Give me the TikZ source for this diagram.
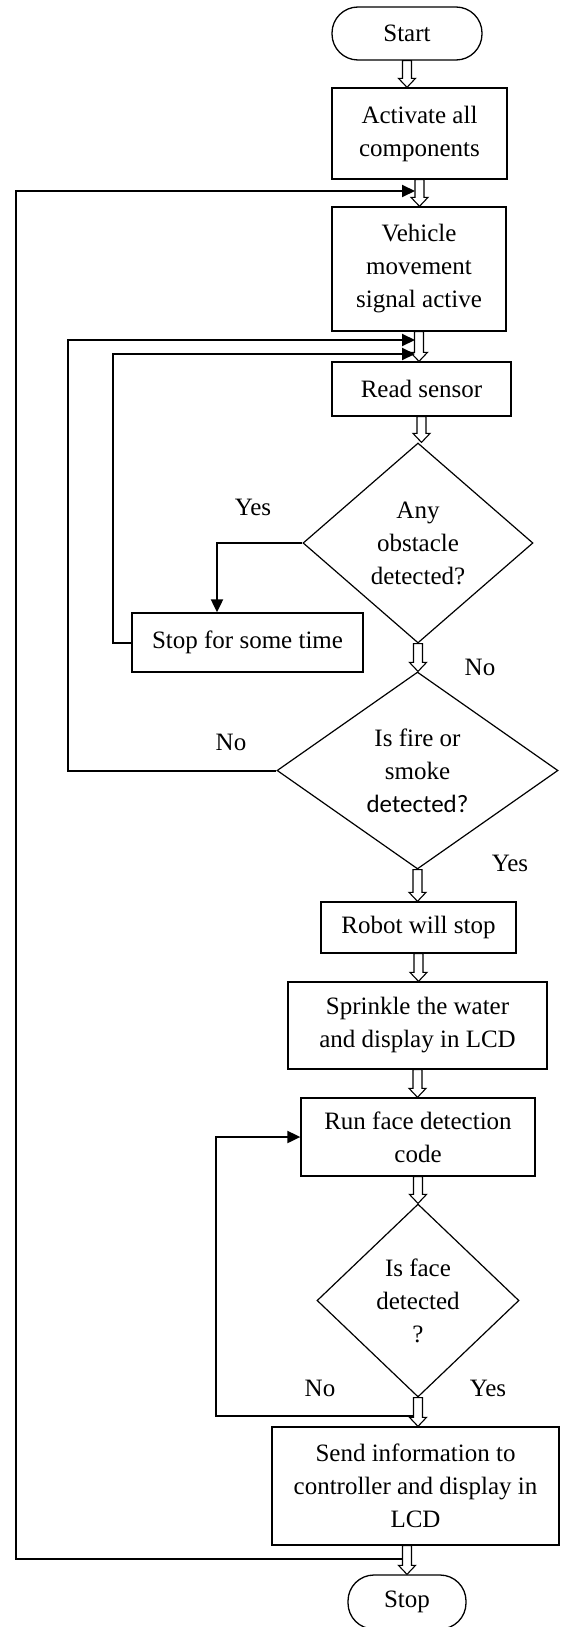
\documentclass[tikz,border=0pt]{standalone}
\usepackage{fontspec}
\setmainfont{Liberation Serif}
\newfontfamily\calibri{Carlito}
\usepackage{tikz}
\usetikzlibrary{shapes.geometric,arrows.meta,calc}

\newcommand{\blockarrow}[2]{%
  \draw[fill=white, line width=1.1pt] let \p1=#1, \p2=#2 in
    (\x1-4.5pt,\y1) -- (\x1-4.5pt,\y2+9pt) -- (\x1-8.5pt,\y2+9pt) -- (\x1,\y2)
    -- (\x1+8.5pt,\y2+9pt) -- (\x1+4.5pt,\y2+9pt) -- (\x1+4.5pt,\y1) -- cycle;}

\begin{document}
\begin{tikzpicture}[x=1pt, y=-1pt,
    every node/.style={font=\fontsize{25}{33}\selectfont},
    box/.style={draw, line width=1.3pt, align=center, inner sep=0pt},
    term/.style={box, rounded corners=26pt},
    decision/.style={draw, diamond, line width=1.2pt, align=center, inner sep=0pt},
    loopline/.style={line width=2pt, -{Triangle[length=13pt,width=12pt]}}]
    \useasboundingbox (0,0) rectangle (560,1627);

    \node[term, minimum width=150pt, minimum height=53pt] (start) at (407,33.5) {Start};
    \node[box, minimum width=175pt, minimum height=91pt] (act) at (419.5,133.5) {Activate all\\components};
    \node[box, minimum width=174pt, minimum height=124pt] (veh) at (419,269) {Vehicle\\movement\\signal active};
    \node[box, minimum width=179pt, minimum height=54pt] (read) at (421.5,389) {Read sensor};
    \node[decision, minimum width=230pt, minimum height=200pt] (obst) at (418,543) {Any\\obstacle\\detected?};
    \node[box, minimum width=231pt, minimum height=59pt] (wait) at (247.5,642.5) {Stop for some time};
    \node[decision, minimum width=281pt, minimum height=197pt] (fire) at (417.5,770.5) {Is fire or\\smoke\\{\calibri detected?}};
    \node[box, minimum width=195pt, minimum height=51pt] (robot) at (418.5,927.5) {Robot will stop};
    \node[box, minimum width=259pt, minimum height=87pt] (water) at (417.5,1025.5) {Sprinkle the water\\and display in LCD};
    \node[box, minimum width=234pt, minimum height=78pt] (face) at (418,1137) {Run face detection\\code};
    \node[decision, minimum width=202pt, minimum height=193pt] (isface) at (418,1300.5) {Is face\\detected\\?};
    \node[box, minimum width=287pt, minimum height=118pt] (send) at (415.5,1486) {Send information to\\controller and display in\\LCD};
    \node[term, minimum width=118pt, minimum height=54pt] (stop) at (407,1602) {Stop};

    \node (yes1) at (253,507) {Yes};
    \node (no1) at (480,667) {No};
    \node (no2) at (231,742) {No};
    \node (yes2) at (510,863) {Yes};
    \node (no3) at (320,1388) {No};
    \node (yes3) at (488,1388) {Yes};

    \blockarrow{(start.south)}{(act.north)}
    \blockarrow{(act.south)}{(veh.north)}
    \blockarrow{(veh.south)}{(read.north)}
    \blockarrow{(read.south)}{(obst.north)}
    \blockarrow{(obst.south)}{(fire.north)}
    \blockarrow{(fire.south)}{(robot.north)}
    \blockarrow{(robot.south)}{(water.north)}
    \blockarrow{(water.south)}{(face.north)}
    \blockarrow{(face.south)}{(isface.north)}
    \blockarrow{(isface.south)}{(send.north)}
    \blockarrow{(stop.north |- send.south)}{(stop.north)}

    \coordinate (m0) at (402.5,1559);
    \coordinate (m1) at (415,191);
    \coordinate (j2) at (415,340);
    \coordinate (j3) at (415,354);
    \coordinate (f0) at (413.5,1416);

    \draw[loopline] (m0) -| (16,191) -- (m1);
    \draw[loopline] (fire.west) -| (68,340) -- (j2);
    \draw[loopline] (wait.west) -| (113,354) -- (j3);
    \draw[loopline] (obst.west) -| ([xshift=-30.5pt]wait.north);
    \draw[loopline] (f0) -| ($(face.west)+(-84,0)$) -- (face.west);
\end{tikzpicture}
\end{document}
